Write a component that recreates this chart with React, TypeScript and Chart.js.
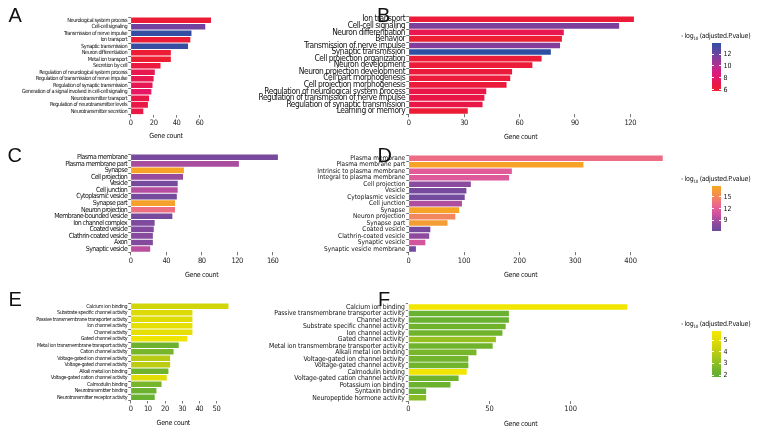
import React, { useEffect, useRef } from "react";
import { Chart, registerables } from "chart.js";
Chart.register(...registerables);

const FONT = "'Liberation Sans Narrow', 'DejaVu Sans Condensed', 'Liberation Sans', Arial, sans-serif";

// ---------- Panel A ----------
const aLabels = ["Neurological system process", "Cell-cell signaling", "Transmission of nerve impulse", "Ion transport", "Synaptic transmission", "Neuron differentiation", "Metal ion transport", "Secretion by cell", "Regulation of neurological system process", "Regulation of transmission of nerve impulse", "Regulation of synaptic transmission", "Generation of a signal involved in cell-cell signaling", "Neurotransmitter transport", "Regulation of neurotransmitter levels", "Neurotransmitter secretion"];
const aCounts = [70, 65, 53, 52, 50, 35, 35, 26, 21, 20, 19, 18, 16, 15, 11];
const aLogP = [6.3, 11.8, 13.6, 6.2, 13.5, 6.2, 6.0, 6.6, 7.2, 7.2, 7.4, 7.8, 7.0, 6.8, 6.8];
const aAxisTicks = [0, 20, 40, 60];

// ---------- Panel B ----------
const bLabels = ["Ion transport", "Cell-cell signaling", "Neuron differentiation", "Behavior", "Transmission of nerve impulse", "Synaptic transmission", "Cell projection organization", "Neuron development", "Neuron projection development", "Cell part morphogenesis", "Cell projection morphogenesis", "Regulation of neurological system process", "Regulation of transmission of nerve impulse", "Regulation of synaptic transmission", "Learning or memory"];
const bCounts = [122, 114, 84, 83, 82, 77, 72, 67, 56, 55, 53, 42, 41, 40, 32];
const bLogP = [6.3, 11.5, 7.3, 6.0, 11.3, 13.8, 6.3, 6.3, 6.5, 6.4, 6.4, 7.0, 7.0, 7.0, 6.2];
const bAxisTicks = [0, 30, 60, 90, 120];

// ---------- Panel C ----------
const cLabels = ["Plasma membrane", "Plasma membrane part", "Synapse", "Cell projection", "Vesicle", "Cell junction", "Cytoplasmic vesicle", "Synapse part", "Neuron projection", "Membrane-bounded vesicle", "Ion channel complex", "Coated vesicle", "Clathrin-coated vesicle", "Axon", "Synaptic vesicle"];
const cCounts = [166, 122, 60, 59, 53, 53, 52, 50, 50, 47, 27, 26, 25, 25, 22];
const cLogP = [7.0, 9.2, 17.5, 8.5, 6.9, 9.6, 6.9, 17.3, 13.4, 7.0, 7.3, 7.6, 7.8, 7.5, 9.8];
const cAxisTicks = [0, 40, 80, 120, 160];

// ---------- Panel D ----------
const dLabels = ["Plasma membrane", "Plasma membrane part", "Intrinsic to plasma membrane", "Integral to plasma membrane", "Cell projection", "Vesicle", "Cytoplasmic vesicle", "Cell junction", "Synapse", "Neuron projection", "Synapse part", "Coated vesicle", "Clathrin-coated vesicle", "Synaptic vesicle", "Synaptic vesicle membrane"];
const dCounts = [458, 315, 186, 181, 112, 104, 101, 96, 91, 84, 70, 39, 37, 30, 13];
const dLogP = [13.2, 17.5, 11.8, 11.6, 8.0, 7.0, 6.8, 9.4, 17.5, 15.0, 16.8, 7.0, 8.2, 11.0, 6.8];
const dAxisTicks = [0, 100, 200, 300, 400];

// ---------- Panel E ----------
const eLabels = ["Calcium ion binding", "Substrate specific channel activity", "Passive transmembrane transporter activity", "Ion channel activity", "Channel activity", "Gated channel activity", "Metal ion transmembrane transport activity", "Cation channel activity", "Voltage-gated ion channel activity", "Voltage-gated channel activity", "Alkali metal ion binding", "Voltage-gated cation channel activity", "Calmodulin binding", "Neurotransmitter binding", "Neurotransmitter receptor activity"];
const eCounts = [57, 36, 36, 36, 36, 33, 28, 25, 23, 23, 22, 21, 18, 15, 14];
const eLogP = [4.6, 4.9, 5.0, 5.2, 5.2, 5.6, 2.3, 2.6, 3.9, 4.0, 2.4, 5.0, 2.6, 2.3, 2.2];
const eAxisTicks = [0, 10, 20, 30, 40, 50];

// ---------- Panel F ----------
const fLabels = ["Calcium ion binding", "Passive transmembrane transporter activity", "Channel activity", "Substrate specific channel activity", "Ion channel activity", "Gated channel activity", "Metal ion transmembrane transporter activity", "Alkali metal ion binding", "Voltage-gated ion channel activity", "Voltage-gated channel activity", "Calmodulin binding", "Voltage-gated cation channel activity", "Potassium ion binding", "Syntaxin binding", "Neuropeptide hormone activity"];
const fCounts = [135, 62, 62, 60, 58, 54, 52, 42, 37, 37, 36, 31, 26, 11, 11];
const fLogP = [5.7, 2.2, 2.2, 2.4, 2.4, 3.2, 2.4, 2.6, 2.5, 2.5, 5.7, 2.4, 2.3, 2.2, 2.9];
const fAxisTicks = [0, 50, 100];

// colour scales: [value, colour]
const scaleBP: [number, string][] = [[5.8, "#ee1f2d"], [7, "#e91748"], [8, "#e5176a"], [9, "#d61c80"], [10, "#b62e8e"], [11, "#8f3a98"], [12, "#6a449f"], [13, "#4b4aa2"], [13.8, "#2e4fa2"]];
const scaleCC: [number, string][] = [[6.3, "#6a4a9c"], [8, "#8a4a9e"], [9, "#a44c9e"], [10.5, "#cc519e"], [12, "#e45c98"], [13.5, "#ee7080"], [15, "#f2865e"], [16.5, "#f49a3a"], [17.8, "#f6a623"]];
const scaleMF: [number, string][] = [[1.83, "#5fae34"], [2.5, "#72b42c"], [3, "#8cbe24"], [3.5, "#a4c61a"], [4, "#bccc12"], [4.5, "#cfd40a"], [5, "#e0dc06"], [5.83, "#f5e800"]];

const bLegendTicks = [6, 8, 10, 12];
const dLegendTicks = [9, 12, 15];
const fLegendTicks = [2, 3, 4, 5];

function hexToRgb(h: string) {
  const n = parseInt(h.slice(1), 16);
  return [(n >> 16) & 255, (n >> 8) & 255, n & 255];
}
function colorAt(v: number, stops: [number, string][]) {
  if (v <= stops[0][0]) return stops[0][1];
  if (v >= stops[stops.length - 1][0]) return stops[stops.length - 1][1];
  for (let i = 0; i < stops.length - 1; i++) {
    const [v0, c0] = stops[i];
    const [v1, c1] = stops[i + 1];
    if (v >= v0 && v <= v1) {
      const t = (v - v0) / (v1 - v0);
      const a = hexToRgb(c0), b = hexToRgb(c1);
      const r = a.map((x, k) => Math.round(x + (b[k] - x) * t));
      return `rgb(${r[0]},${r[1]},${r[2]})`;
    }
  }
  return stops[0][1];
}

type Panel = {
  labels: string[]; counts: number[]; logp: number[]; stops: [number, string][]; ticks: number[];
  zeroX: number; right: number; top: number; bottom: number; max: number; fs: number; ls: number;
};

const panels: Panel[] = [
  { labels: aLabels, counts: aCounts, logp: aLogP, stops: scaleBP, ticks: aAxisTicks, zeroX: 130.7, right: 215, top: 17, bottom: 114.6, max: 73.5, fs: 5.6, ls: -0.45 },
  { labels: bLabels, counts: bCounts, logp: bLogP, stops: scaleBP, ticks: bAxisTicks, zeroX: 408.7, right: 645, top: 16, bottom: 114.3, max: 128, fs: 8.4, ls: -0.45 },
  { labels: cLabels, counts: cCounts, logp: cLogP, stops: scaleCC, ticks: cAxisTicks, zeroX: 130.7, right: 285, top: 154, bottom: 252.3, max: 174, fs: 7.0, ls: -0.6 },
  { labels: dLabels, counts: dCounts, logp: dLogP, stops: scaleCC, ticks: dAxisTicks, zeroX: 408.7, right: 675.5, top: 155.1, bottom: 252.2, max: 481, fs: 6.5, ls: 0 },
  { labels: eLabels, counts: eCounts, logp: eLogP, stops: scaleMF, ticks: eAxisTicks, zeroX: 130.7, right: 233.6, top: 303, bottom: 400.5, max: 60, fs: 5.4, ls: -0.38 },
  { labels: fLabels, counts: fCounts, logp: fLogP, stops: scaleMF, ticks: fAxisTicks, zeroX: 408.3, right: 638.7, top: 303.8, bottom: 401, max: 142, fs: 6.8, ls: -0.1 },
];

const W = 768, H = 444, XAXIS_H = 30;

function BarPanel({ p }: { p: Panel }) {
  const ref = useRef<HTMLCanvasElement | null>(null);
  useEffect(() => {
    if (!ref.current) return;
    const spacing = {
      id: "labelSpacing",
      beforeDraw(chart: any) { (chart.ctx as any).letterSpacing = p.ls + "px"; },
    };
    const chart = new Chart(ref.current, {
      type: "bar",
      data: {
        labels: p.labels,
        datasets: [{
          data: p.counts,
          backgroundColor: p.logp.map((v) => colorAt(v, p.stops)),
          borderWidth: 0,
          barPercentage: 0.86,
          categoryPercentage: 1,
        }],
      },
      options: {
        indexAxis: "y",
        responsive: false,
        animation: false,
        layout: { padding: { left: 0, top: p.top, right: W - p.right, bottom: H - p.bottom - XAXIS_H } },
        plugins: { legend: { display: false }, tooltip: { enabled: false } },
        scales: {
          x: {
            type: "linear", min: 0, max: p.max,
            afterFit: (s: any) => { s.height = XAXIS_H; },
            afterBuildTicks: (s: any) => { s.ticks = p.ticks.map((v) => ({ value: v })); },
            border: { display: false },
            grid: { drawOnChartArea: false, drawTicks: true, tickLength: 3, color: "#555", lineWidth: 0.8 },
            ticks: { font: { family: FONT, size: 7.5 }, color: "#222", padding: 1, maxRotation: 0, autoSkip: false, callback: (v: any) => String(v) },
          },
          y: {
            type: "category",
            afterFit: (s: any) => { s.width = p.zeroX; },
            border: { display: false },
            grid: { drawOnChartArea: false, drawTicks: true, tickLength: 2.5, color: "#555", lineWidth: 0.8 },
            ticks: { font: { family: FONT, size: p.fs }, color: "#111", padding: 1, autoSkip: false },
          },
        },
      } as any,
      plugins: [spacing],
    });
    return () => chart.destroy();
  }, [p]);
  return <canvas ref={ref} width={W} height={H} style={{ position: "absolute", left: 0, top: 0, width: W, height: H }} />;
}

type Leg = { top: number; titleY: number; height: number; vmin: number; vmax: number; ticks: number[]; stops: [number, string][] };
const legends: Leg[] = [
  { top: 43.3, titleY: 36, height: 47.4, vmin: 5.8, vmax: 13.8, ticks: bLegendTicks, stops: scaleBP },
  { top: 185.7, titleY: 179.3, height: 45.3, vmin: 6.3, vmax: 17.8, ticks: dLegendTicks, stops: scaleCC },
  { top: 330.7, titleY: 324.3, height: 46.3, vmin: 1.83, vmax: 5.83, ticks: fLegendTicks, stops: scaleMF },
];

function ColorLegend({ l }: { l: Leg }) {
  const grad = "linear-gradient(to top, " + l.stops.map(([v, c]) => `${c} ${((v - l.vmin) / (l.vmax - l.vmin)) * 100}%`).join(", ") + ")";
  const yOf = (v: number) => l.top + l.height - ((v - l.vmin) / (l.vmax - l.vmin)) * l.height;
  return (
    <>
      <div style={{ position: "absolute", left: 681, top: l.titleY - 5, height: 10, lineHeight: "10px", fontFamily: FONT, fontSize: 7, letterSpacing: "-0.3px", color: "#111", whiteSpace: "nowrap" }}>
        - log<sub style={{ fontSize: 4.5, verticalAlign: "-2px" }}>10</sub> (adjusted.P.value)
      </div>
      <div style={{ position: "absolute", left: 711.7, top: l.top, width: 9, height: l.height, background: grad }} />
      {l.ticks.map((t) => (
        <React.Fragment key={t}>
          <div style={{ position: "absolute", left: 711.7, top: yOf(t) - 0.4, width: 2, height: 0.8, background: "#fff" }} />
          <div style={{ position: "absolute", left: 718.7, top: yOf(t) - 0.4, width: 2, height: 0.8, background: "#fff" }} />
          <div style={{ position: "absolute", left: 723.5, top: yOf(t) - 5, height: 10, lineHeight: "10px", fontFamily: FONT, fontSize: 7, color: "#111" }}>{t}</div>
        </React.Fragment>
      ))}
    </>
  );
}

const letters = [
  { t: "A", x: 8.5, base: 22 }, { t: "B", x: 377, base: 22 },
  { t: "C", x: 7.5, base: 162 }, { t: "D", x: 377.5, base: 162 },
  { t: "E", x: 8.5, base: 306 }, { t: "F", x: 378, base: 306 },
];
const axisTitles = [
  { x: 166, y: 136.3 }, { x: 520.7, y: 136.7 },
  { x: 201.7, y: 275 }, { x: 520.7, y: 275.3 },
  { x: 173.3, y: 423.3 }, { x: 520.7, y: 424 },
];

export default function App() {
  return (
    <div style={{ position: "absolute", left: 0, top: 0, width: W, height: H, background: "#fff", overflow: "hidden" }}>
      {panels.map((p, i) => <BarPanel key={i} p={p} />)}
      {legends.map((l, i) => <ColorLegend key={i} l={l} />)}
      {letters.map((L) => (
        <div key={L.t} style={{ position: "absolute", left: L.x, top: L.base - 16.9, height: 20, lineHeight: "20px", fontFamily: "'Liberation Sans', Arial, sans-serif", fontSize: 20, color: "#111" }}>{L.t}</div>
      ))}
      {axisTitles.map((a, i) => (
        <div key={i} style={{ position: "absolute", left: a.x - 40, width: 80, textAlign: "center", top: a.y - 5, height: 10, lineHeight: "10px", fontFamily: FONT, fontSize: 7, letterSpacing: "-0.3px", color: "#111" }}>Gene count</div>
      ))}
    </div>
  );
}
